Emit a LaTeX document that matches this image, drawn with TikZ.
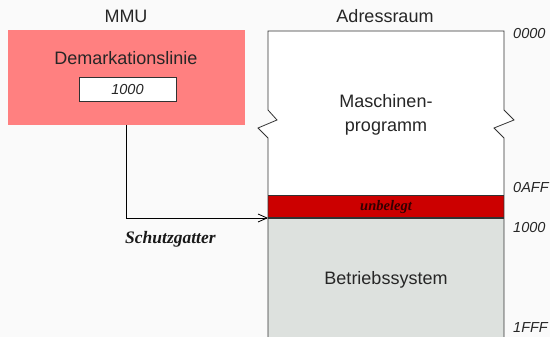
\documentclass[tikz,border=0pt]{standalone}
\usepackage{fontspec}
\setmainfont{Liberation Sans}
\newfontfamily\serifit{Liberation Serif}
\usetikzlibrary{arrows.meta}
\definecolor{bgc}{RGB}{250,250,250}
\definecolor{pinkc}{RGB}{255,128,128}
\definecolor{redc}{RGB}{204,0,0}
\definecolor{grayc}{RGB}{221,225,222}
\definecolor{linec}{RGB}{50,50,50}
\tikzset{
  lbl/.style={font=\fontsize{18}{20}\selectfont, text=black!85, inner sep=0pt},
  addr/.style={font=\fontsize{14.5}{16}\selectfont\itshape, text=black!85, inner sep=0pt, anchor=west},
  outl/.style={draw=linec, line width=0.8pt},
}
\begin{document}
\begin{tikzpicture}[x=1pt,y=-1pt]
\useasboundingbox (0,0) rectangle (550,337);
\fill[bgc] (0,0) rectangle (550,337);
% MMU box
\node[lbl] (mmu) at (126,16) {MMU};
\fill[pinkc] (8,30) rectangle (245,125);
\coordinate (mmubot) at (126,125);
\node[lbl] (demark) at (126,58) {Demarkationslinie};
\node[draw=linec, line width=0.8pt, fill=white, minimum width=97pt, minimum height=24pt, inner sep=0pt,
  font=\fontsize{14.5}{16}\selectfont\itshape, text=black!85] (val) at (127.5,89.5) {1000};
% address space
\node[lbl] (adr) at (385,16) {Adressraum};
\fill[white] (268,31) -- (504,31) -- (504,110) -- (514,120) -- (494,128) -- (504,138)
  -- (504,195) -- (268,195) -- (268,138) -- (258,128) -- (277,120) -- (268,110) -- cycle;
\fill[redc] (268,195) rectangle (504,218);
\fill[grayc] (268,218) rectangle (504,340);
\draw[outl] (268,340) -- (268,138) -- (258,128) -- (277,120) -- (268,110) -- (268,31)
  -- (504,31) -- (504,110) -- (514,120) -- (494,128) -- (504,138) -- (504,340);
\draw[outl] (268,195) -- (504,195);
\draw[linec, line width=1.2pt] (268,218) -- (504,218);
\coordinate (gate) at (268,218);
\node[lbl, align=center, font=\fontsize{18}{24}\selectfont] (prog) at (386,115) {Maschinen-\\programm};
\node[inner sep=0pt, font=\fontsize{14.5}{16}\selectfont\serifit\bfseries\itshape, text=black!80!red] (unb) at (386,207) {unbelegt};
\node[lbl] (bs) at (386,280) {Betriebssystem};
% addresses
\node[addr] (a0) at (513,34) {0000};
\node[addr] (a1) at (513,188) {0AFF};
\node[addr] (a2) at (513,228) {1000};
\node[addr] (a3) at (513,328) {1FFF};
% connector
\draw[black, line width=0.8pt, -{Straight Barb[length=9pt,width=8pt,line width=0.8pt]}] (mmubot) |- (gate);
\node[inner sep=0pt, anchor=west, font=\fontsize{17.5}{19}\selectfont\serifit\bfseries\itshape, text=black!90] (sg) at (125,239) {Schutzgatter};
\end{tikzpicture}
\end{document}
